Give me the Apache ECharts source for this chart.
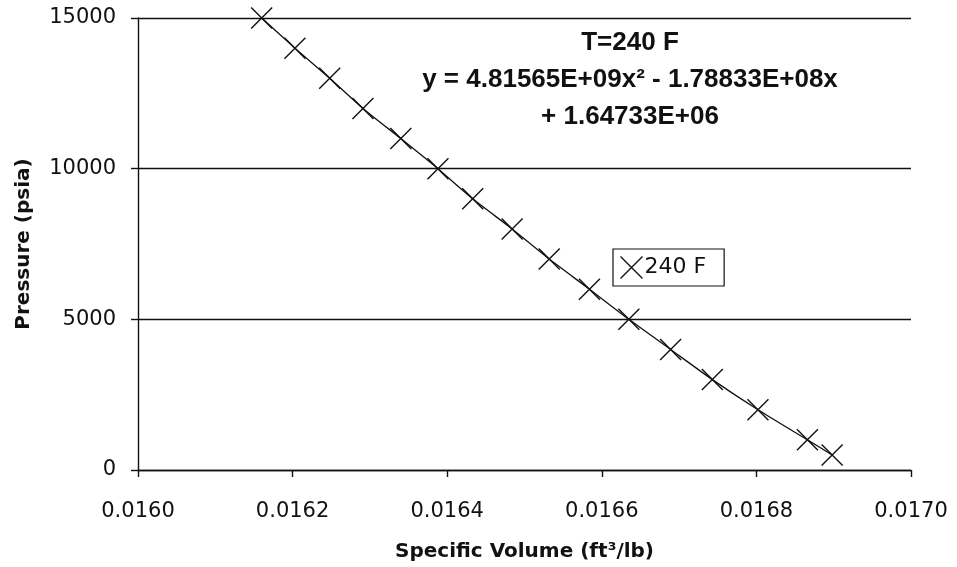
<!DOCTYPE html>
<html>
<head>
<meta charset="utf-8">
<script src="https://cdn.jsdelivr.net/npm/echarts@6/dist/echarts.min.js"></script>
<style>
  html, body { margin: 0; padding: 0; background: #fff; }
  #main { width: 957px; height: 567px; }
</style>
</head>
<body>
<div id="main"></div>
<script>
// specific volume (ft3/lb)
var volume = [0.016160, 0.016203, 0.016248, 0.016291, 0.016340, 0.016388,
  0.016433, 0.016484, 0.016532, 0.016584, 0.016635, 0.016689, 0.016743,
  0.016802, 0.016866, 0.016898];
// pressure (psia)
var pressure = [15000, 14000, 13000, 12000, 11000, 10000, 9000, 8000, 7000,
  6000, 5000, 4000, 3000, 2000, 1000, 500];

var seriesName = '240 F';
var fitLines = ['T=240 F', 'y = 4.81565E+09x\u00b2 - 1.78833E+08x', '+ 1.64733E+06'];

var pts = volume.map(function (v, i) { return [v, pressure[i]]; });
var cross = 'path://M0,0L10,10M10,0L0,10';
var tickFont = '"DejaVu Sans", Verdana, sans-serif';
var eqFont = '"Liberation Sans", Arial, sans-serif';
var ink = '#111';

var chart = echarts.init(document.getElementById('main'));

chart.setOption({
  animation: false,
  backgroundColor: '#fff',
  textStyle: { fontFamily: tickFont, color: ink },
  grid: { left: 138, right: 46, top: 18, bottom: 97 },
  legend: {
    left: 613, top: 249,
    padding: [5, 18, 5, 5],
    borderColor: ink, borderWidth: 1.2,
    itemWidth: 22, itemHeight: 22,
    itemGap: 4,
    data: [{ name: seriesName, icon: cross,
      itemStyle: { color: 'none', borderColor: ink, borderWidth: 1.4 } }],
    textStyle: { fontSize: 22, fontFamily: tickFont, color: ink, padding: [0, 0, 0, -3] }
  },
  xAxis: {
    type: 'value', min: 0.016, max: 0.017, interval: 0.0002,
    name: 'Specific Volume (ft\u00b3/lb)', nameLocation: 'middle', nameGap: 72,
    nameTextStyle: { fontSize: 20, fontWeight: 'bold', fontFamily: tickFont, color: ink },
    axisLine: { show: true, lineStyle: { color: ink, width: 1.4 } },
    axisTick: { show: true, inside: false, length: 7, lineStyle: { color: ink, width: 1.4 } },
    axisLabel: { fontSize: 21, margin: 31, color: ink, fontFamily: tickFont,
      formatter: function (v) { return v.toFixed(4); } },
    splitLine: { show: false }
  },
  yAxis: {
    type: 'value', min: 0, max: 15000, interval: 5000,
    name: 'Pressure (psia)', nameLocation: 'middle', nameGap: 104,
    nameTextStyle: { fontSize: 20, fontWeight: 'bold', fontFamily: tickFont, color: ink },
    axisLine: { show: true, lineStyle: { color: ink, width: 1.4 } },
    axisTick: { show: true, inside: false, length: 7, lineStyle: { color: ink, width: 1.4 } },
    axisLabel: { fontSize: 21, margin: 22, color: ink, fontFamily: tickFont,
      formatter: function (v) { return String(v); } },
    splitLine: { show: true, lineStyle: { color: ink, width: 1.3 } }
  },
  graphic: fitLines.map(function (t, i) {
    return {
      type: 'text', x: 630, y: 43 + i * 37,
      style: { text: t, fontSize: 26, fontWeight: 'bold', fontFamily: eqFont,
        fill: ink, align: 'center', verticalAlign: 'middle' }
    };
  }),
  series: [{
    name: seriesName,
    type: 'line',
    data: pts,
    smooth: 0.2,
    symbol: cross,
    symbolSize: 21,
    itemStyle: { color: 'none', borderColor: ink, borderWidth: 1.4 },
    lineStyle: { color: ink, width: 1.3 }
  }]
});
</script>
</body>
</html>
